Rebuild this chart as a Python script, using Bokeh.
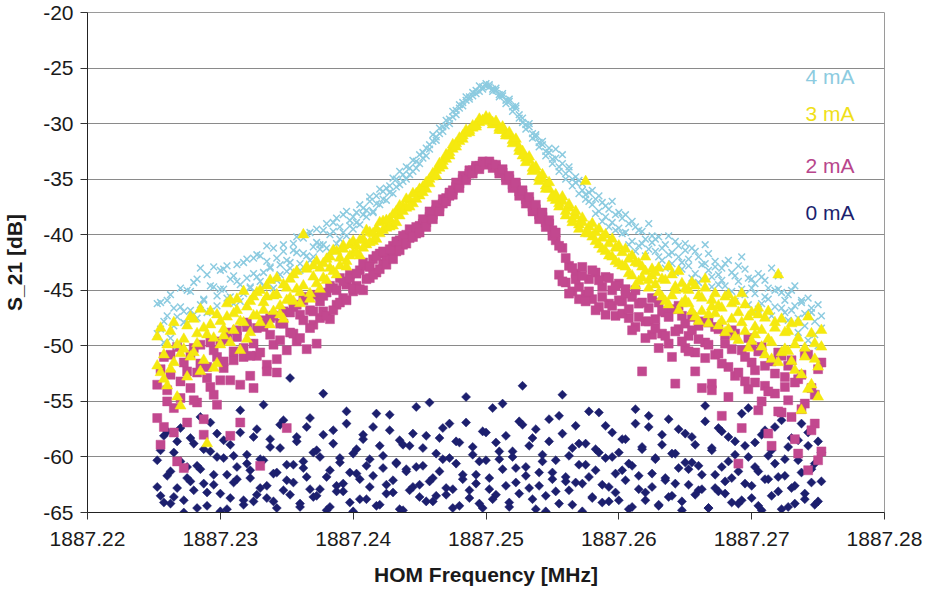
from bokeh.plotting import figure
from bokeh.models import FixedTicker, PrintfTickFormatter, Range1d, Label
from bokeh.embed import file_html
from bokeh.resources import INLINE

# ---------------- data ----------------
freq_mhz = [
    1887.22525, 1887.2255, 1887.22575, 1887.226, 1887.22625, 1887.2265, 1887.22675, 1887.227,
    1887.22725, 1887.2275, 1887.22775, 1887.228, 1887.22825, 1887.2285, 1887.22875, 1887.229,
    1887.22925, 1887.2295, 1887.22975, 1887.23, 1887.23025, 1887.2305, 1887.23075, 1887.231,
    1887.23125, 1887.2315, 1887.23175, 1887.232, 1887.23225, 1887.2325, 1887.23275, 1887.233,
    1887.23325, 1887.2335, 1887.23375, 1887.234, 1887.23425, 1887.2345, 1887.23475, 1887.235,
    1887.23525, 1887.2355, 1887.23575, 1887.236, 1887.23625, 1887.2365, 1887.23675, 1887.237,
    1887.23725, 1887.2375, 1887.23775, 1887.238, 1887.23825, 1887.2385, 1887.23875, 1887.239,
    1887.23925, 1887.2395, 1887.23975, 1887.24, 1887.24025, 1887.2405, 1887.24075, 1887.241,
    1887.24125, 1887.2415, 1887.24175, 1887.242, 1887.24225, 1887.2425, 1887.24275, 1887.243,
    1887.24325, 1887.2435, 1887.24375, 1887.244, 1887.24425, 1887.2445, 1887.24475, 1887.245,
    1887.24525, 1887.2455, 1887.24575, 1887.246, 1887.24625, 1887.2465, 1887.24675, 1887.247,
    1887.24725, 1887.2475, 1887.24775, 1887.248, 1887.24825, 1887.2485, 1887.24875, 1887.249,
    1887.24925, 1887.2495, 1887.24975, 1887.25, 1887.25025, 1887.2505, 1887.25075, 1887.251,
    1887.25125, 1887.2515, 1887.25175, 1887.252, 1887.25225, 1887.2525, 1887.25275, 1887.253,
    1887.25325, 1887.2535, 1887.25375, 1887.254, 1887.25425, 1887.2545, 1887.25475, 1887.255,
    1887.25525, 1887.2555, 1887.25575, 1887.256, 1887.25625, 1887.2565, 1887.25675, 1887.257,
    1887.25725, 1887.2575, 1887.25775, 1887.258, 1887.25825, 1887.2585, 1887.25875, 1887.259,
    1887.25925, 1887.2595, 1887.25975, 1887.26, 1887.26025, 1887.2605, 1887.26075, 1887.261,
    1887.26125, 1887.2615, 1887.26175, 1887.262, 1887.26225, 1887.2625, 1887.26275, 1887.263,
    1887.26325, 1887.2635, 1887.26375, 1887.264, 1887.26425, 1887.2645, 1887.26475, 1887.265,
    1887.26525, 1887.2655, 1887.26575, 1887.266, 1887.26625, 1887.2665, 1887.26675, 1887.267,
    1887.26725, 1887.2675, 1887.26775, 1887.268, 1887.26825, 1887.2685, 1887.26875, 1887.269,
    1887.26925, 1887.2695, 1887.26975, 1887.27, 1887.27025, 1887.2705, 1887.27075, 1887.271,
    1887.27125, 1887.2715, 1887.27175, 1887.272, 1887.27225, 1887.2725, 1887.27275, 1887.273,
    1887.27325, 1887.2735, 1887.27375, 1887.274, 1887.27425, 1887.2745, 1887.27475, 1887.275,
    1887.27525,
]

s21_4mA_sweep1 = [
    -46.2, -48.5, -47.8, -45.9, -49.3, -46.6, -47.4, -44.8, -46.9, -48.0,
    -45.1, -47.2, -44.0, -46.3, -45.8, -43.6, -46.9, -44.7, -45.5, -43.2,
    -44.9, -42.8, -45.6, -43.7, -44.2, -46.0, -42.5, -43.9, -44.8, -42.1,
    -43.8, -41.9, -44.6, -42.4, -43.0, -41.2, -44.1, -42.7, -40.9, -43.3,
    -42.5, -40.8, -41.6, -43.2, -40.3, -41.9, -39.8, -42.0, -40.7, -41.3,
    -39.6, -41.2, -40.0, -38.9, -40.8, -39.3, -38.2, -40.1, -38.7, -39.5,
    -38.0, -39.1, -37.6, -38.4, -37.0, -37.9, -36.5, -37.3, -36.1, -36.9,
    -35.6, -36.3, -35.0, -35.5, -34.6, -35.0, -34.0, -34.3, -33.4, -33.6,
    -32.6, -32.9, -31.9, -31.6, -31.2, -30.9, -30.3, -30.2, -29.6, -29.4,
    -28.8, -28.6, -28.1, -27.9, -27.6, -27.5, -27.0, -27.1, -26.7, -26.6,
    -26.7, -26.9, -27.0, -27.4, -27.5, -27.9, -28.0, -28.5, -28.6, -29.2,
    -29.5, -30.1, -30.3, -30.9, -31.2, -31.7, -31.9, -32.5, -32.6, -33.2,
    -33.1, -33.9, -33.6, -34.5, -34.2, -35.0, -35.3, -35.1, -36.0, -36.4,
    -36.2, -37.3, -36.8, -37.9, -37.1, -38.4, -37.7, -38.9, -38.2, -39.4,
    -38.5, -39.8, -39.0, -40.6, -39.3, -41.0, -39.7, -40.4, -41.3, -40.1,
    -41.5, -40.2, -42.3, -40.9, -41.8, -42.6, -40.6, -42.0, -43.1, -41.4,
    -42.8, -41.2, -43.5, -42.0, -44.0, -42.6, -41.7, -43.8, -42.9, -44.5,
    -43.0, -44.6, -42.3, -45.1, -43.7, -44.2, -42.0, -45.4, -43.9, -44.8,
    -45.3, -43.5, -46.2, -44.1, -45.8, -43.0, -46.5, -44.9, -45.2, -47.0,
    -45.4, -46.8, -44.6, -47.5, -46.1, -48.2, -45.7, -47.0, -49.0, -46.3, -48.4,
]

s21_4mA_sweep2 = [
    -48.9, -46.1, -49.7, -47.3, -45.4, -48.2, -50.0, -46.5, -47.9, -45.0,
    -46.8, -44.3, -47.5, -43.0, -45.9, -47.0, -44.6, -42.9, -46.4, -44.9,
    -43.1, -45.7, -44.0, -46.2, -42.7, -44.5, -45.3, -42.2, -44.7, -43.5,
    -41.8, -44.2, -43.4, -41.0, -42.9, -44.8, -42.1, -43.6, -41.5, -42.3,
    -43.0, -41.4, -40.2, -42.6, -41.7, -39.9, -42.3, -41.1, -39.5, -40.9,
    -40.9, -39.0, -41.5, -39.7, -38.5, -40.4, -39.8, -37.9, -39.2, -38.4,
    -38.9, -37.3, -38.2, -37.8, -36.6, -38.0, -37.2, -35.9, -36.8, -35.8,
    -36.2, -34.9, -35.7, -34.3, -35.2, -33.9, -34.6, -33.3, -34.0, -32.8,
    -33.1, -32.2, -32.3, -31.0, -31.5, -30.4, -30.7, -29.7, -30.0, -28.9,
    -29.2, -28.3, -28.4, -27.6, -27.8, -27.2, -27.3, -26.6, -26.9, -26.4,
    -26.5, -27.1, -26.8, -27.6, -27.3, -28.2, -27.8, -28.9, -28.4, -29.5,
    -29.9, -30.5, -30.0, -31.3, -31.0, -32.1, -31.6, -32.9, -32.2, -33.6,
    -32.3, -34.3, -32.8, -35.0, -33.9, -35.6, -34.8, -36.3, -35.4, -36.8,
    -37.0, -36.0, -38.1, -36.5, -38.8, -37.4, -39.3, -37.0, -39.6, -38.0,
    -39.9, -38.2, -40.9, -38.8, -41.5, -39.6, -40.8, -41.9, -39.0, -40.7,
    -40.4, -42.0, -41.2, -43.0, -40.1, -41.6, -43.4, -41.0, -42.5, -40.8,
    -42.2, -43.9, -41.5, -44.3, -42.7, -40.9, -43.2, -44.7, -42.4, -43.6,
    -44.1, -42.6, -45.3, -43.4, -46.0, -42.8, -44.9, -43.1, -46.3, -44.0,
    -44.4, -46.7, -43.8, -45.6, -44.8, -47.3, -45.0, -43.7, -46.6, -45.9,
    -47.7, -45.0, -46.4, -48.8, -45.9, -47.1, -49.5, -46.6, -47.8, -50.0, -47.3,
]

s21_3mA_sweep1 = [
    -49.2, -52.4, -50.8, -53.6, -48.7, -51.5, -49.9, -55.4, -50.3, -48.2,
    -51.0, -47.6, -49.8, -52.3, -48.4, -58.8, -46.9, -49.3, -51.6, -47.8,
    -48.5, -46.2, -49.7, -47.1, -45.8, -50.4, -47.9, -46.5, -48.8, -45.6,
    -47.3, -45.0, -46.8, -44.6, -48.1, -45.5, -43.9, -46.4, -47.6, -44.8,
    -45.7, -43.6, -44.9, -46.2, -40.0, -43.1, -45.3, -42.8, -44.4, -43.0,
    -42.6, -44.1, -42.0, -43.3, -41.5, -42.8, -41.0, -42.4, -40.9, -41.7,
    -41.0, -41.9, -40.4, -40.9, -39.8, -40.6, -39.5, -39.9, -38.8, -39.4,
    -38.6, -39.2, -37.9, -38.3, -37.5, -37.6, -36.9, -37.2, -36.3, -36.5,
    -35.7, -35.9, -35.0, -34.8, -34.2, -34.0, -33.4, -33.2, -32.6, -32.3,
    -31.8, -31.6, -31.1, -30.9, -30.6, -30.4, -30.1, -29.9, -29.7, -29.6,
    -29.7, -29.9, -30.0, -30.4, -30.6, -30.9, -31.1, -31.5, -31.7, -32.2,
    -32.5, -33.1, -33.3, -34.0, -34.2, -34.9, -35.0, -35.6, -35.9, -36.5,
    -36.4, -37.2, -37.0, -37.9, -37.6, -38.6, -38.3, -39.1, -38.9, -35.2,
    -39.3, -40.2, -39.8, -40.9, -40.3, -41.5, -40.8, -42.0, -41.2, -42.6,
    -41.6, -42.9, -42.2, -43.7, -42.5, -44.2, -42.9, -43.3, -44.8, -43.1,
    -44.5, -43.0, -45.6, -44.1, -46.3, -43.6, -45.0, -46.8, -44.4, -45.9,
    -46.2, -44.3, -47.4, -45.5, -46.9, -44.8, -48.0, -45.9, -47.1, -46.4,
    -47.8, -45.6, -48.5, -46.2, -49.2, -47.0, -45.3, -48.7, -47.4, -49.6,
    -48.3, -46.6, -50.1, -47.5, -49.4, -51.2, -47.9, -43.6, -50.6, -48.8,
    -50.5, -48.0, -52.2, -49.3, -55.8, -51.0, -47.4, -53.5, -49.8, -51.9, -48.6,
]

s21_3mA_sweep2 = [
    -51.8, -48.4, -53.0, -49.9, -52.1, -47.9, -54.6, -50.7, -49.4, -52.8,
    -47.4, -50.6, -48.9, -46.7, -51.3, -49.0, -48.1, -52.0, -47.2, -49.9,
    -49.1, -47.4, -45.9, -48.6, -46.8, -47.8, -45.1, -49.4, -46.0, -47.3,
    -45.2, -47.9, -46.1, -45.6, -44.1, -46.9, -45.4, -47.2, -44.5, -45.9,
    -44.0, -46.0, -43.3, -45.2, -44.6, -42.9, -45.8, -43.8, -42.4, -44.9,
    -43.9, -42.2, -43.0, -41.4, -43.6, -42.1, -41.3, -42.9, -41.9, -40.6,
    -41.6, -40.5, -41.2, -39.6, -40.7, -39.9, -40.4, -38.9, -39.6, -38.7,
    -39.3, -38.2, -38.9, -37.4, -37.9, -36.8, -37.5, -36.3, -36.8, -35.9,
    -36.2, -35.3, -35.4, -34.5, -34.7, -33.6, -33.8, -32.8, -32.9, -31.9,
    -32.1, -31.3, -31.4, -30.6, -30.8, -30.2, -30.3, -29.6, -29.8, -29.4,
    -29.5, -30.1, -29.8, -30.6, -30.3, -31.1, -30.8, -31.8, -31.4, -32.5,
    -32.9, -33.5, -33.0, -34.3, -33.9, -35.2, -34.6, -35.9, -35.3, -36.7,
    -36.9, -37.5, -36.6, -38.3, -37.3, -38.9, -37.9, -39.5, -38.5, -39.9,
    -39.9, -39.0, -40.6, -39.5, -41.3, -40.0, -41.9, -40.4, -42.4, -41.0,
    -42.8, -41.3, -43.5, -41.9, -44.6, -42.6, -43.9, -42.0, -44.1, -43.7,
    -43.4, -45.2, -44.0, -46.0, -42.9, -45.5, -44.7, -43.3, -46.2, -44.9,
    -45.0, -46.9, -44.6, -47.8, -45.7, -44.0, -47.2, -46.5, -45.3, -48.2,
    -46.6, -48.8, -45.4, -47.6, -46.0, -49.5, -47.9, -46.3, -50.2, -47.0,
    -49.0, -47.2, -48.6, -50.8, -46.9, -49.7, -48.4, -51.5, -47.6, -50.3,
    -48.7, -51.4, -49.9, -47.9, -52.6, -50.2, -53.9, -48.9, -51.2, -54.6, -50.1,
]

s21_2mA_sweep1 = [
    -56.5, -52.1, -57.3, -54.0, -50.8, -55.6, -60.4, -53.2, -51.5, -56.9,
    -53.8, -50.2, -55.1, -51.6, -58.0, -52.9, -49.7, -54.4, -51.0, -53.1,
    -52.0, -49.4, -58.1, -51.3, -48.6, -53.5, -50.2, -47.9, -52.7, -49.8,
    -50.9, -60.8, -48.3, -51.7, -47.5, -49.9, -52.4, -48.0, -46.9, -57.4,
    -48.8, -46.5, -49.6, -47.2, -45.9, -50.3, -46.8, -48.1, -45.4, -47.5,
    -46.9, -45.2, -47.6, -44.8, -46.3, -43.9, -45.7, -44.5, -43.6, -45.1,
    -44.6, -43.2, -45.0, -42.8, -43.9, -42.2, -43.4, -41.7, -42.6, -41.9,
    -41.9, -41.0, -41.5, -40.5, -40.9, -40.0, -40.3, -39.6, -39.9, -39.2,
    -39.0, -38.9, -38.4, -38.2, -37.8, -37.5, -37.2, -36.7, -36.5, -36.0,
    -35.7, -35.4, -35.0, -34.8, -34.5, -34.2, -34.0, -33.8, -33.6, -33.5,
    -33.6, -33.7, -33.9, -34.2, -34.4, -34.8, -35.0, -35.5, -35.7, -36.1,
    -36.3, -36.8, -37.0, -37.5, -37.7, -38.2, -38.4, -38.9, -39.0, -39.6,
    -40.5, -43.6, -41.2, -44.3, -42.8, -45.1, -43.5, -44.7, -42.9, -45.4,
    -44.0, -45.8, -43.4, -46.5, -44.7, -43.8, -46.2, -45.0, -47.3, -44.4,
    -46.0, -44.9, -47.5, -45.6, -48.3, -46.2, -52.3, -47.8, -46.6, -49.0,
    -47.6, -46.1, -48.9, -47.0, -49.8, -46.7, -53.4, -48.5, -47.3, -50.2,
    -49.1, -47.4, -50.6, -48.2, -53.8, -49.7, -47.9, -53.4, -50.8, -48.5,
    -56.3, -49.0, -51.9, -48.6, -52.7, -60.6, -50.4, -53.2, -49.3, -51.5,
    -52.2, -55.8, -50.1, -53.6, -57.9, -51.4, -54.3, -50.6, -56.0, -52.8,
    -54.9, -51.3, -58.4, -53.0, -55.7, -50.7, -61.2, -53.8, -57.0, -52.1, -59.5,
]

s21_2mA_sweep2 = [
    -53.5, -58.9, -51.0, -55.0, -52.6, -57.8, -50.1, -54.7, -61.0, -52.3,
    -50.8, -54.9, -52.4, -49.9, -56.6, -51.9, -53.7, -50.4, -55.3, -49.6,
    -51.4, -48.8, -53.1, -50.5, -49.2, -56.9, -51.0, -48.3, -50.9, -53.8,
    -48.4, -50.6, -47.7, -52.3, -49.0, -47.3, -51.2, -49.5, -48.0, -50.4,
    -47.0, -48.9, -46.3, -49.3, -47.7, -45.6, -48.4, -46.9, -49.8, -46.0,
    -45.5, -47.3, -44.6, -46.8, -45.0, -46.1, -44.2, -45.9, -43.9, -44.8,
    -43.5, -44.9, -42.5, -44.0, -42.9, -43.6, -41.9, -43.1, -41.5, -42.7,
    -41.3, -42.2, -40.6, -41.4, -40.1, -40.8, -39.5, -40.2, -39.3, -39.8,
    -38.6, -39.3, -37.9, -38.6, -37.3, -37.9, -36.8, -37.0, -36.2, -36.4,
    -35.3, -35.8, -34.7, -35.1, -34.2, -34.5, -33.8, -34.1, -33.4, -33.7,
    -33.4, -34.0, -33.7, -34.5, -34.1, -35.1, -34.7, -35.8, -35.3, -36.5,
    -36.0, -37.2, -36.6, -37.9, -37.3, -38.6, -38.0, -39.3, -38.7, -40.1,
    -39.8, -41.0, -44.2, -42.1, -45.3, -43.0, -44.0, -45.8, -43.7, -46.0,
    -45.1, -43.2, -46.8, -44.1, -45.6, -47.2, -43.9, -46.4, -44.6, -45.9,
    -47.1, -45.3, -46.7, -48.6, -45.0, -47.4, -46.1, -49.3, -47.8, -45.7,
    -48.4, -50.2, -46.9, -49.1, -47.4, -51.0, -48.7, -46.4, -49.6, -48.0,
    -50.5, -48.6, -52.3, -49.4, -47.8, -51.1, -49.9, -54.0, -48.3, -50.7,
    -51.6, -49.8, -54.6, -50.3, -48.9, -52.4, -57.4, -51.0, -53.9, -50.0,
    -53.3, -50.5, -55.0, -51.8, -54.1, -59.0, -52.5, -55.9, -50.9, -53.7,
    -51.8, -56.4, -53.3, -59.7, -52.6, -55.2, -50.8, -57.6, -54.4, -60.3, -51.5,
]

s21_0mA_sweep1 = [
    -60.3, -63.5, -58.1, -61.7, -64.2, -59.6, -62.8, -57.4, -63.9, -60.9,
    -62.2, -58.8, -64.6, -61.1, -59.3, -63.2, -56.9, -62.5, -60.0, -64.9,
    -58.5, -61.6, -63.7, -59.9, -62.0, -57.8, -64.3, -60.6, -61.9, -58.2,
    -63.4, -60.2, -55.3, -62.6, -59.1, -64.0, -61.4, -57.1, -63.0, -60.7,
    -52.9, -62.3, -58.6, -64.5, -60.4, -61.8, -56.5, -63.6, -59.4, -62.9,
    -58.0, -64.8, -61.2, -57.6, -63.1, -60.1, -62.4, -55.9, -64.1, -59.7,
    -61.5, -63.8, -58.4, -60.8, -62.7, -57.3, -64.4, -59.0, -61.0, -63.3,
    -56.2, -62.1, -60.5, -64.7, -58.9, -61.3, -63.0, -57.9, -60.9, -62.5,
    -59.2, -64.0, -55.1, -61.9, -63.5, -58.3, -60.2, -62.8, -57.0, -64.6,
    -60.6, -58.7, -62.0, -54.6, -63.7, -59.8, -61.6, -64.2, -57.7, -60.3,
    -62.9, -55.6, -63.4, -59.5, -61.1, -58.1, -64.5, -60.0, -62.3, -56.8,
    -53.6, -61.7, -59.0, -63.8, -57.5, -62.6, -60.4, -64.9, -58.6, -61.4,
    -63.1, -56.3, -54.4, -62.2, -59.9, -64.3, -57.2, -60.7, -62.4, -58.8,
    -61.8, -63.6, -59.3, -56.0, -64.1, -60.1, -62.7, -57.8, -63.2, -59.6,
    -61.2, -58.4, -64.7, -60.8, -55.7, -62.9, -59.1, -63.9, -57.3, -61.5,
    -60.2, -64.4, -58.0, -62.1, -56.6, -63.5, -59.7, -61.0, -64.0, -57.9,
    -62.5, -60.5, -58.9, -63.0, -61.6, -55.4, -64.6, -59.2, -62.8, -57.4,
    -60.9, -63.3, -58.2, -61.9, -59.8, -64.2, -56.1, -62.4, -60.0, -63.7,
    -58.7, -61.3, -64.8, -57.6, -62.0, -59.4, -60.6, -63.1, -56.7, -61.7,
    -64.5, -58.3, -62.6, -60.3, -57.0, -63.8, -59.0, -61.1, -64.3, -58.6,
    -62.2,
]

s21_0mA_sweep2 = [
    -62.7, -59.4, -64.1, -57.7, -61.3, -63.6, -58.6, -60.4, -65.0, -61.9,
    -58.3, -63.0, -60.8, -56.4, -62.4, -64.4, -59.5, -61.6, -57.9, -63.3,
    -60.1, -64.7, -58.9, -62.3, -60.9, -55.8, -63.9, -59.8, -61.2, -64.0,
    -57.5, -62.8, -60.3, -63.7, -58.4, -61.5, -64.6, -59.2, -56.7, -62.1,
    -63.4, -60.7, -58.2, -64.2, -61.0, -57.3, -62.9, -59.6, -63.5, -60.0,
    -54.3, -61.8, -64.5, -58.8, -62.6, -60.5, -63.1, -57.0, -61.4, -64.9,
    -59.3, -62.0, -58.0, -63.8, -60.2, -61.7, -56.1, -64.3, -59.9, -62.5,
    -57.6, -63.2, -60.6, -58.5, -64.8, -61.1, -59.0, -62.7, -55.5, -63.6,
    -60.8, -58.1, -62.2, -64.0, -59.7, -61.3, -57.4, -63.4, -60.1, -62.9,
    -58.6, -64.4, -61.6, -56.9, -63.0, -59.1, -62.4, -60.4, -64.6, -57.8,
    -61.9, -63.8, -58.7, -60.2, -55.2, -62.6, -64.1, -59.5, -61.0, -63.3,
    -57.1, -60.9, -62.8, -58.3, -64.7, -61.4, -59.8, -63.5, -56.6, -62.0,
    -60.3, -64.2, -57.9, -61.8, -63.0, -59.2, -62.3, -58.8, -64.9, -60.7,
    -55.9, -63.7, -61.2, -59.6, -62.5, -57.2, -64.0, -60.0, -61.5, -63.9,
    -58.4, -62.1, -60.6, -64.5, -57.0, -61.7, -59.3, -63.2, -56.3, -62.7,
    -60.1, -64.3, -58.9, -61.9, -63.6, -59.7, -62.4, -57.5, -64.8, -60.5,
    -61.1, -58.2, -63.4, -60.8, -62.9, -56.8, -64.6, -59.4, -61.6, -63.1,
    -57.7, -62.2, -60.4, -64.1, -58.6, -61.3, -63.9, -59.0, -55.6, -62.6,
    -60.9, -64.4, -58.0, -62.0, -59.9, -63.5, -57.3, -61.8, -64.7, -60.2,
    -59.1, -62.8, -64.2, -58.5, -61.4, -63.3, -57.8, -62.3, -60.6, -64.0,
    -59.6,
]

x_ticks = [1887.22, 1887.23, 1887.24, 1887.25, 1887.26, 1887.27, 1887.28]
y_ticks = [-65, -60, -55, -50, -45, -40, -35, -30, -25, -20]
series_names = ["4 mA", "3 mA", "2 mA", "0 mA"]

for arr in (s21_4mA_sweep1, s21_4mA_sweep2, s21_3mA_sweep1, s21_3mA_sweep2,
            s21_2mA_sweep1, s21_2mA_sweep2, s21_0mA_sweep1, s21_0mA_sweep2):
    assert len(arr) == len(freq_mhz), len(arr)

# ---------------- styling ----------------
NAVY = "#1c1f6e"
MAGENTA = "#c2488f"
YELLOW = "#f5e90f"
LIGHTBLUE = "#8ccbe0"
FONT = "Liberation Sans"

p = figure(
    width=934, height=600,
    x_range=Range1d(1887.22, 1887.28), y_range=Range1d(-65, -20),
    output_backend="svg", toolbar_location=None,
    min_border_left=86, min_border_right=50, min_border_top=12, min_border_bottom=88,
    background_fill_color="white", border_fill_color="white",
)
p.outline_line_color = "#9a9a9a"
p.outline_line_width = 1

p.xgrid.visible = False
p.ygrid.ticker = FixedTicker(ticks=y_ticks)
p.ygrid.grid_line_color = "#8a8a8a"
p.ygrid.grid_line_width = 1

p.xaxis.ticker = FixedTicker(ticks=x_ticks)
p.xaxis.formatter = PrintfTickFormatter(format="%.2f")
p.yaxis.ticker = FixedTicker(ticks=y_ticks)
p.yaxis.formatter = PrintfTickFormatter(format="%d")

for ax in (p.xaxis[0], p.yaxis[0]):
    ax.major_tick_in = 0
    ax.major_tick_out = 7
    ax.minor_tick_line_color = None
    ax.major_tick_line_color = "#333333"
    ax.axis_line_color = "#222222"
    ax.axis_line_width = 1
    ax.major_label_text_font = FONT
    ax.major_label_text_font_size = "21px"
    ax.major_label_text_color = "#1a1a1a"
    ax.axis_label_text_font = FONT
    ax.axis_label_text_font_style = "bold"
    ax.axis_label_text_font_size = "21px"
    ax.axis_label_text_color = "#1a1a1a"

p.xaxis.axis_label = "HOM Frequency [MHz]"
p.yaxis.axis_label = "S_21 [dB]"
p.xaxis.major_label_standoff = 12
p.xaxis.axis_label_standoff = 14
p.yaxis.major_label_standoff = 7
p.yaxis.axis_label_standoff = 14

# ---------------- series ----------------
for ys in (s21_0mA_sweep1, s21_0mA_sweep2):
    p.scatter(freq_mhz, ys, marker="square", angle=0.7854, size=6.4,
              fill_color=NAVY, line_color=NAVY, line_width=0.5)
for ys in (s21_2mA_sweep1, s21_2mA_sweep2):
    p.scatter(freq_mhz, ys, marker="square", size=9,
              fill_color=MAGENTA, line_color=MAGENTA, line_width=0.5)
for ys in (s21_4mA_sweep1, s21_4mA_sweep2):
    p.scatter(freq_mhz, ys, marker="x", size=9.5,
              line_color=LIGHTBLUE, line_width=1.5)
for ys in (s21_3mA_sweep1, s21_3mA_sweep2):
    p.scatter(freq_mhz, ys, marker="triangle", size=11,
              fill_color=YELLOW, line_color=YELLOW, line_width=0.5)

# ---------------- series labels ----------------
label_colors = [LIGHTBLUE, "#f0e019", "#b8468c", NAVY]
label_y = [-25.76, -29.09, -33.77, -38.0]
for name, col, yy in zip(series_names, label_colors, label_y):
    p.add_layout(Label(x=1887.27774, y=yy, text=name, text_align="right",
                       text_baseline="middle", text_color=col,
                       text_font=FONT, text_font_size="21px"))

open("out.html", "w").write(file_html(p, INLINE))
